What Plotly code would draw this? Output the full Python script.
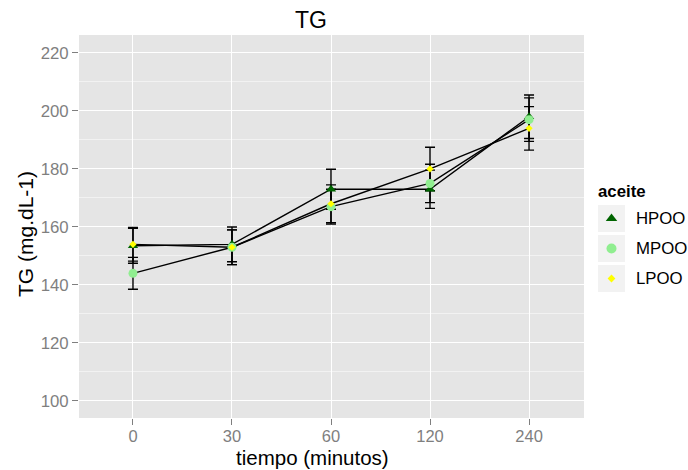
import plotly.graph_objects as go

# ---------------- data ----------------
tiempo = ["0", "30", "60", "120", "240"]
series_names = ["HPOO", "MPOO", "LPOO"]
hpoo = [153.5, 154, 173, 173, 198]
hpoo_err = [6.0, 6.0, 6.9, 6.6, 7.5]
mpoo = [144, 153, 167, 175, 197]
mpoo_err = [5.5, 6.0, 6.0, 6.6, 7.5]
lpoo = [154, 153, 168, 180, 194]
lpoo_err = [5.8, 6.0, 6.5, 7.5, 7.5]
y_ticks = [100, 120, 140, 160, 180, 200, 220]

values = [hpoo, mpoo, lpoo]
errors = [hpoo_err, mpoo_err, lpoo_err]
colors = ["#006400", "#90EE90", "#FFFF00"]
symbols = ["triangle-up", "circle", "diamond"]
sizes = [9, 9, 5.5]

# ---------------- layout constants (pixels) ----------------
W, H = 688, 470
ML, MR, MT, MB = 79, 0, 35, 52
PANEL_R = 584
PANEL_B = H - MB
PW = W - ML - MR
PH = H - MT - MB
FONT = "Liberation Sans, Arial, Helvetica, sans-serif"
GREY = "#7F7F7F"


def px(x):
    return (x - ML) / PW


def py(y):
    return (H - MB - y) / PH


xpos = list(range(len(tiempo)))

fig = go.Figure()

# panel background
fig.add_shape(type="rect", xref="x domain", yref="y domain",
              x0=0, x1=1, y0=0, y1=1, fillcolor="#E5E5E5",
              line=dict(width=0), layer="below")

# error bars + lines
for vals, errs in zip(values, errors):
    fig.add_trace(go.Scatter(
        x=xpos, y=vals, mode="lines",
        line=dict(color="black", width=1.4),
        error_y=dict(type="data", array=errs, visible=True,
                     color="black", thickness=1.4, width=5),
        showlegend=False, hoverinfo="skip"))

# points
for name, vals, c, s, sz in zip(series_names, values, colors, symbols, sizes):
    fig.add_trace(go.Scatter(
        x=xpos, y=vals, mode="markers", name=name,
        marker=dict(color=c, symbol=s, size=sz, line=dict(width=0)),
        showlegend=False))

# legend (manual, ggplot-style keys) drawn on a pixel-scaled helper subplot
key_centers = [218.5, 248.5, 278.5]
for name, c, s, sz, yc in zip(series_names, colors, symbols, sizes, key_centers):
    fig.add_shape(type="rect", xref="x2", yref="y2",
                  x0=598, x1=625, y0=yc - 13.5, y1=yc + 13.5,
                  fillcolor="#F2F2F2", line=dict(width=0), layer="below")
    fig.add_trace(go.Scatter(
        x=[611.5], y=[yc], xaxis="x2", yaxis="y2", mode="markers",
        marker=dict(color=c, symbol=s, size=sz + (1 if s != "diamond" else 0.5),
                    line=dict(width=0)),
        showlegend=False, hoverinfo="skip"))
    fig.add_annotation(text=name, xref="paper", yref="paper",
                       x=px(634), y=py(yc), xanchor="left", yanchor="middle",
                       showarrow=False, font=dict(family=FONT, size=16.8, color="black"))

fig.add_annotation(text="<b>aceite</b>", xref="paper", yref="paper",
                   x=px(596), y=py(191), xanchor="left", yanchor="middle",
                   showarrow=False, font=dict(family=FONT, size=16.8, color="black"))

# titles
fig.add_annotation(text="TG", xref="paper", yref="paper",
                   x=px(311), y=py(20), xanchor="center", yanchor="middle",
                   showarrow=False, font=dict(family=FONT, size=23, color="black"))
fig.add_annotation(text="tiempo (minutos)", xref="paper", yref="paper",
                   x=px(312), y=py(457.5), xanchor="center", yanchor="middle",
                   showarrow=False, font=dict(family=FONT, size=20.5, color="black"))
fig.add_annotation(text="TG (mg.dL-1)", xref="paper", yref="paper",
                   x=px(25), y=py(234), xanchor="center", yanchor="middle",
                   textangle=-90, showarrow=False,
                   font=dict(family=FONT, size=21, color="black"))

fig.update_layout(
    width=W, height=H,
    margin=dict(l=ML, r=MR, t=MT, b=MB, pad=0),
    paper_bgcolor="white",
    plot_bgcolor="white",
    font=dict(family=FONT, color="black"),
    showlegend=False,
    xaxis=dict(
        domain=[0, (PANEL_R - ML) / PW],
        range=[-0.545, 4.555],
        tickvals=xpos, ticktext=tiempo,
        showgrid=True, gridcolor="white", gridwidth=1.2,
        zeroline=False, showline=False,
        ticks="outside", ticklen=6, tickwidth=1, tickcolor=GREY,
        ticklabelstandoff=-3,
        tickfont=dict(family=FONT, size=16.5, color=GREY),
        fixedrange=True,
    ),
    yaxis=dict(
        range=[94.1, 226.2],
        tickvals=y_ticks,
        showgrid=True, gridcolor="white", gridwidth=1.2,
        minor=dict(tick0=110, dtick=20, showgrid=True,
                   gridcolor="#F2F2F2", gridwidth=0.6),
        zeroline=False, showline=False,
        ticks="outside", ticklen=6, tickwidth=1, tickcolor=GREY,
        tickfont=dict(family=FONT, size=16.8, color=GREY),
        fixedrange=True,
    ),
    xaxis2=dict(domain=[(PANEL_R - ML) / PW, 1], range=[PANEL_R, W],
                anchor="y2", visible=False, fixedrange=True),
    yaxis2=dict(domain=[0, 1], range=[PANEL_B, MT], anchor="x2",
                visible=False, fixedrange=True),
)

fig.write_html("out.html")
